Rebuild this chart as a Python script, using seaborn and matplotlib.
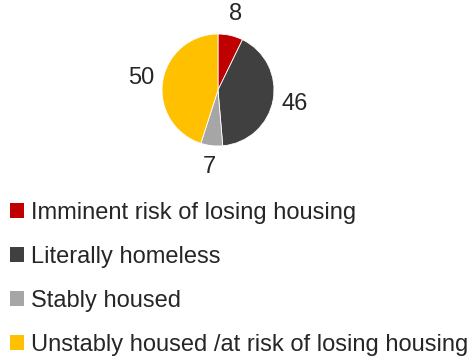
import matplotlib
matplotlib.use("Agg")
import matplotlib.pyplot as plt
from matplotlib.patches import Patch
import seaborn as sns

categories = [
    "Imminent risk of losing housing",
    "Literally homeless",
    "Stably housed",
    "Unstably housed /at risk of losing housing",
]
counts = [8, 46, 7, 50]
colors = ["#C00000", "#404040", "#A6A6A6", "#FFC000"]

sns.set_style("white")
plt.rcParams["font.family"] = ["Liberation Sans", "DejaVu Sans"]
palette = sns.color_palette(colors)

W, H = 475, 362
fig = plt.figure(figsize=(W / 100, H / 100), dpi=100)

# pie axes: centre (218, 90) px, radius 56 px
cx, cy, r = 218, 90, 56
L = 1.6
side = 2 * L * r
ax = fig.add_axes([(cx - side / 2) / W, (H - cy - side / 2) / H, side / W, side / H])
total = sum(counts)
wedges, _, autotexts = ax.pie(
    counts,
    colors=palette,
    startangle=90,
    counterclock=False,
    autopct=lambda p: f"{round(p * total / 100):d}",
    pctdistance=1.39,
    wedgeprops=dict(linewidth=0.6, edgecolor="white"),
    textprops=dict(fontsize=17, color="#262626"),
)
ax.set_xlim(-L, L)
ax.set_ylim(-L, L)
ax.set_aspect("equal")
ax.axis("off")
for t in autotexts:
    t.set_clip_on(False)

handles = [Patch(facecolor=c, edgecolor="none") for c in palette]
leg = fig.legend(
    handles,
    categories,
    loc="upper left",
    bbox_to_anchor=(10 / W, 1 - 202 / H),
    frameon=False,
    fontsize=17,
    handlelength=0.6,
    handleheight=0.6,
    handletextpad=0.3,
    labelspacing=0.93,
    borderpad=0,
    borderaxespad=0,
    labelcolor="#262626",
)

fig.savefig("out.png", dpi=100)
